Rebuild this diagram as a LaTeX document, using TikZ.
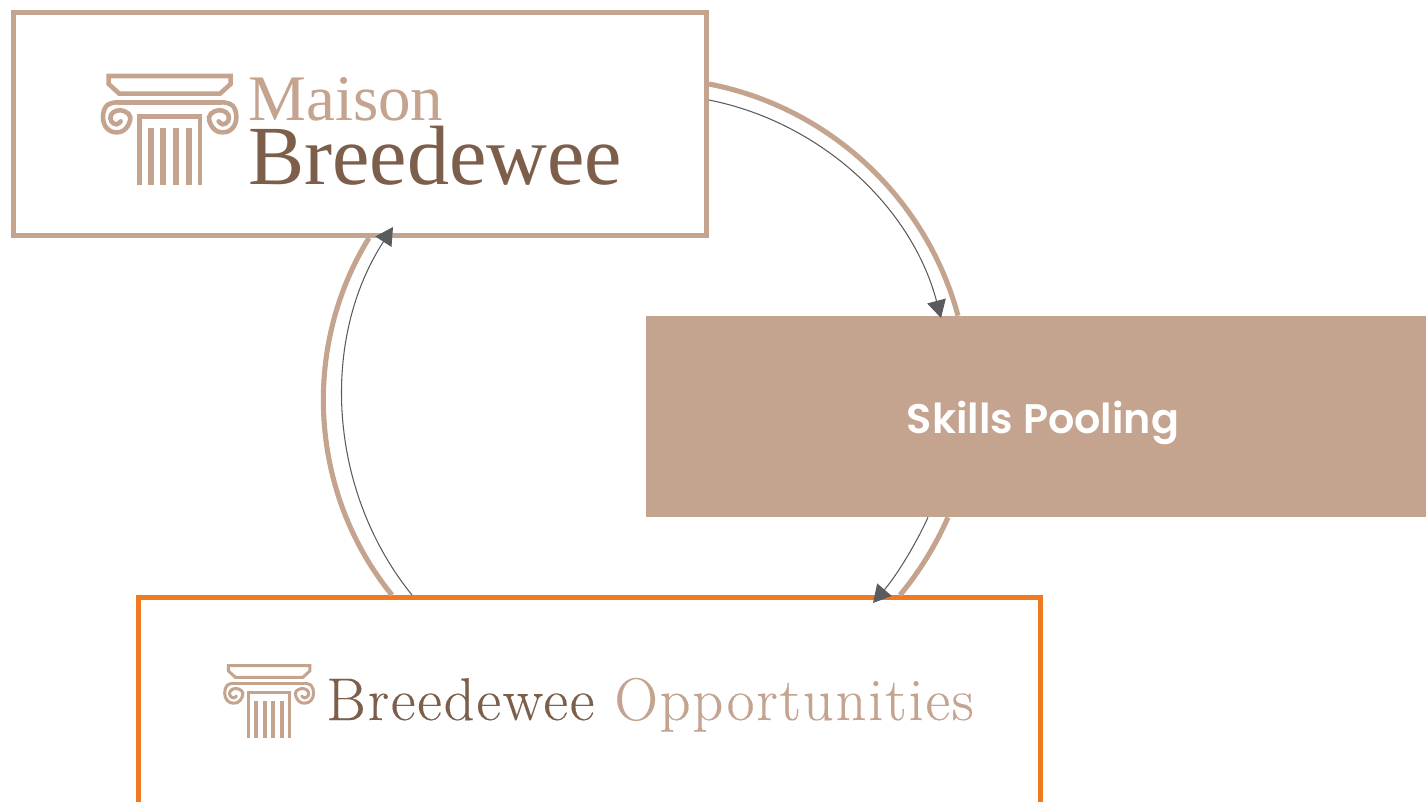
\documentclass[tikz,border=0pt]{standalone}
\usepackage{fontspec}
\usepackage{tikz}
\usetikzlibrary{arrows.meta}
\newfontfamily\skillsfont{Poppins}[UprightFont=* SemiBold]
\newfontfamily\maisonfont{Liberation Serif}
\newfontfamily\oppsfont{Latin Modern Roman}[LetterSpace=3.2,FakeBold=0.2]
\definecolor{tanC}{HTML}{C4A38F}
\definecolor{brownC}{HTML}{7C5E4B}
\definecolor{orangeC}{HTML}{F07A21}
\definecolor{greyC}{HTML}{5A5B5C}
\tikzset{
    ring/.style={draw=tanC,line width=2.9pt},
    flow/.style={draw=greyC,line width=0.6pt,-{Triangle[width=10.8pt,length=10pt,fill=greyC]}},
    logobox/.style={draw=#1,fill=white,line width=2.83pt,inner sep=0pt},
    pics/pillar/.style={code={
        \draw[tanC,line width=#1,line join=miter] (56,48)--(422,48)--(422,72)--(390,101)--(88,101)--(56,72)--cycle;
        \draw[tanC,line width=#1] (80,127)--(397,127);
        \foreach \side/\sx in {0/1,478/-1}{
            \begin{scope}[xshift=\side*0.02cm,xscale=\sx]
            \draw[tanC,line width=#1,line cap=round] plot[smooth,tension=0.7] coordinates {(80,127)(50,137)(39,172)(51,205)(80,217)(108,205)(121,172)(104,154)(80,152)(63,165)(64,184)(80,193)(92,184)};
            \end{scope}
        }
        \draw[tanC,line width=#1] (148,375)--(148,170)--(330,170)--(330,375);
        \foreach \fx in {182,220,258,296}
            \fill[tanC] (\fx-9,205) rectangle (\fx+9,375);
    }}
}
\begin{document}
\begin{tikzpicture}[x=0.02cm,y=-0.02cm]
    \clip (0,0) rectangle (1426,801);
    \node[logobox=tanC,minimum width=13.86cm,minimum height=4.46cm] (maison) at (360,124) {};
    \node[fill=tanC,minimum width=15.6cm,minimum height=4.02cm,inner sep=0pt] (skills) at (1036,416.5) {};
    \node[text=white,inner sep=0pt,font=\skillsfont\fontsize{23.5}{26}\selectfont] (skillsword) at (1043,423) {Skills Pooling};
    \node[logobox=orangeC,minimum width=18.04cm,minimum height=6cm] (opps) at (589.5,747.5) {};
    % outer ring
    \draw[ring] (maison.east |- 0,84) to[bend left=32,looseness=0.92] (958,0 |- skills.north);
    \draw[ring] (948,0 |- skills.south) to[bend left=8,looseness=0.85] (900,0 |- opps.north);
    \draw[ring] (392,0 |- opps.north) to[bend left=35.5,looseness=0.93] (369,0 |- maison.south);
    % inner arrows
    \draw[flow] (maison.east |- 0,100) to[bend left=32,looseness=0.92] (941,318);
    \draw[flow] (928,0 |- skills.south) to[bend left=8,looseness=0.85] (873,603);
    \draw[flow] (412,0 |- opps.north) to[bend left=36,looseness=0.93] (393,227);
    % logos
    \pic at (90,60) [scale=1/3] {pillar=2.6pt};
    \node[anchor=base west,inner sep=0pt,text=tanC,font=\maisonfont\fontsize{37}{37}\selectfont] (maisonword) at (248,120) {Maison};
    \node[anchor=base west,inner sep=0pt,text=brownC,font=\maisonfont\fontsize{47.9}{48}\selectfont] (breedewee) at (248,184) {Breedewee};
    \pic at (216,655) [scale=2/9] {pillar=1.7pt};
    \node[anchor=base west,inner sep=0pt,text=brownC,font=\oppsfont\fontsize{34.3}{35}\selectfont] (oppsword) at (326,720) {Breedewee \textcolor{tanC}{Opportunities}};
\end{tikzpicture}
\end{document}
